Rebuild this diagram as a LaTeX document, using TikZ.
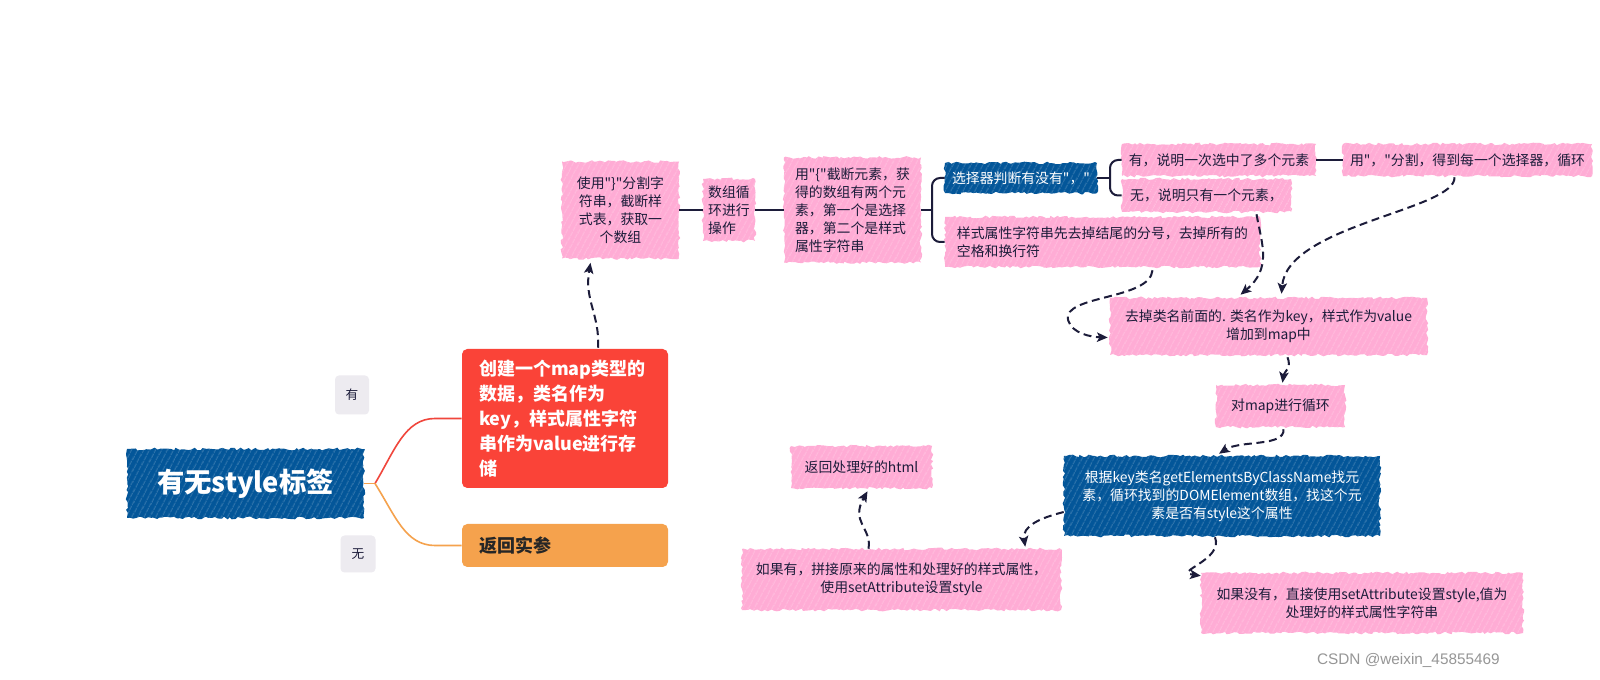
\documentclass[tikz,border=0pt]{standalone}
\usepackage{fontspec}
\setmainfont{Noto Sans CJK SC}[Ligatures=TeXOff]
\newfontfamily\wmfont{Liberation Sans}
\usetikzlibrary{arrows.meta,decorations.pathmorphing,patterns.meta,calc}
\definecolor{pinkc}{RGB}{255,172,213}
\definecolor{bluec}{RGB}{3,86,153}
\definecolor{redc}{RGB}{250,67,56}
\definecolor{orangec}{RGB}{245,162,77}
\definecolor{grayc}{RGB}{237,235,240}
\definecolor{ink}{RGB}{28,28,58}
\definecolor{redline}{RGB}{240,70,60}
\definecolor{wmc}{RGB}{150,150,150}
\begin{document}
\begin{tikzpicture}[x=0.75pt,y=-0.75pt,
  sz/.style 2 args={minimum width=#1*0.75pt, minimum height=#2*0.75pt, inner sep=0pt},
  sk/.style={preaction={fill=#1, decorate, decoration={random steps,segment length=2.2pt,amplitude=1pt}},
             postaction={pattern={Lines[angle=62,distance=4pt,line width=.45pt]}, pattern color=white, fill opacity=.5}},
  pk/.style={sk=pinkc, text=ink, font=\fontsize{10.4}{13.5}\selectfont},
  bl/.style={sk=bluec, text=white, font=\fontsize{10.4}{13.5}\selectfont},
  con/.style={draw=ink, line width=1.5pt},
  dsh/.style={draw=ink, line width=1.5pt, dash pattern=on 6pt off 3.5pt, -{Stealth[length=8pt,width=7pt,inset=1.8pt]}},
]
\pgfmathsetseed{7}
\fill[white] (0,0) rectangle (1600,680);
\useasboundingbox (0,0) rectangle (1600,680);

% left part
\node[sk=bluec, sz={237}{69}, text=white, font=\fontsize{20.5}{24}\selectfont\bfseries] (root) at (245.5,483.5) {有无style标签};
\node[fill=grayc, rounded corners=3pt, sz={34}{39}, font=\fontsize{9.5}{11}\selectfont, text=ink] (ly) at (352,395) {有};
\node[fill=grayc, rounded corners=3pt, sz={35}{37}, font=\fontsize{9.5}{11}\selectfont, text=ink] (ln) at (358,554) {无};
\node[fill=redc, rounded corners=4pt, sz={206}{139}, text width=129pt, align=left, text=white, font=\fontsize{13.5}{18.75}\selectfont\bfseries] (red) at (565,418.5) {创建一个map类型的\\数据，类名作为\\key，样式属性字符\\串作为value进行存\\储};
\node[fill=orangec, rounded corners=4pt, sz={206}{43}, text width=129pt, align=left, text=black!85, font=\fontsize{13.5}{18.75}\selectfont\bfseries] (ora) at (565,545.5) {返回实参};

% top chain
\node[pk, sz={117}{97}, align=center] (n1) at (620.5,210) {使用"\}"分割字\\符串，截断样\\式表，获取一\\个数组};
\node[pk, sz={52}{62}, align=left] (n2) at (729,210) {数组循\\环进行\\操作};
\node[pk, sz={137}{105}, align=left] (n3) at (852.5,210) {用"\{"截断元素，获\\得的数组有两个元\\素，第一个是选择\\器，第二个是样式\\属性字符串};
\node[bl, sz={152}{30}] (sel) at (1021,178) {选择器判断有没有"，"};
\node[pk, sz={315}{50}, align=left] (sty) at (1102.5,242) {样式属性字符串先去掉结尾的分号，去掉所有的\\空格和换行符};
\node[pk, sz={194}{32}] (yes) at (1219,160) {有，说明一次选中了多个元素};
\node[pk, sz={169}{33}] (no) at (1206.5,195.5) {无，说明只有一个元素，};
\node[pk, sz={249}{32}] (split) at (1467.5,160) {用"，"分割，得到每一个选择器，循环};
\node[pk, sz={317}{57}, align=center] (rm) at (1268.5,326.5) {去掉类名前面的. 类名作为key，样式作为value\\增加到map中};
\node[pk, sz={129}{42}] (loop) at (1280.5,406) {对map进行循环};
\node[bl, sz={316}{80}, align=center] (find) at (1222,496) {根据key类名getElementsByClassName找元\\素，循环找到的DOMElement数组，找这个元\\素是否有style这个属性};
\node[pk, sz={141}{42}] (ret) at (861.5,467) {返回处理好的html};
\node[pk, sz={319}{61}, align=center] (ify) at (901.5,579.5) {如果有，拼接原来的属性和处理好的样式属性，\\使用setAttribute设置style};
\node[pk, sz={322}{60}, align=center] (ifn) at (1362,603) {如果没有，直接使用setAttribute设置style,值为\\处理好的样式属性字符串};

\node[anchor=east, inner sep=0pt, font=\wmfont\fontsize{11.5}{14}\selectfont, text=wmc] (wm) at (1500,660) {CSDN @weixin\_45855469};

% root branches
\coordinate (j) at (375,483.5);
\draw[orangec, line width=1.2pt] (root.east) -- (j);
\draw[redline, line width=1.2pt] (j) .. controls (395,450) and (405,418.5) .. (435,418.5) -- (red.west);
\draw[orangec, line width=1.2pt] (j) .. controls (395,515) and (405,545.5) .. (435,545.5) -- (ora.west);

% solid connectors
\draw[con] (n1.east) -- (n2.west);
\draw[con] (n2.east) -- (n3.west);
\coordinate (b1) at (932,210);
\draw[con] (n3.east) -- (b1);
\draw[con, rounded corners=6pt] (sel.west) -| (b1) |- (sty.west);
\coordinate (b2) at (1110,178);
\draw[con] (sel.east) -- (b2);
\draw[con, rounded corners=6pt] (yes.west) -| (b2) |- (no.west);
\draw[con] (yes.east) -- (split.west);

% dashed arrows
\draw[dsh] ($(red.north)+(33,-1)$) .. controls (600,315) and (584,300) .. ($(n1.south)+(-30,4)$);
\draw[dsh] ($(no.south)+(50,2)$) .. controls (1262,245) and (1272,268) .. ($(rm.north)+(-28,-3)$);
\draw[dsh] ($(split.south)+(-13,1)$) .. controls (1456,210) and (1287,225) .. ($(rm.north)+(13,-4)$);
\draw[dsh] ($(sty.south)+(50,3)$) .. controls (1150,300) and (1062,295) .. (1068,320) .. controls (1072,334) and (1092,337) .. ($(rm.west)+(-2,11)$);
\draw[dsh] ($(rm.south)+(19,2)$) .. controls (1292,368) and (1284,372) .. ($(loop.north)+(2,-2)$);
\draw[dsh] ($(loop.south)+(3,2)$) .. controls (1285,447) and (1240,440) .. ($(find.north)+(-3,-2)$);
\draw[dsh] ($(find.west)+(0,16)$) .. controls (1040,518) and (1022,526) .. ($(ify.north east)+(-36,-2)$);
\draw[dsh] ($(find.south)+(-7,1)$) .. controls (1224,560) and (1172,572) .. ($(ifn.north west)+(0,3)$);
\draw[dsh] ($(ify.north)+(-33,0)$) .. controls (872,528) and (850,522) .. ($(ret.south)+(6,3)$);
\end{tikzpicture}
\end{document}
